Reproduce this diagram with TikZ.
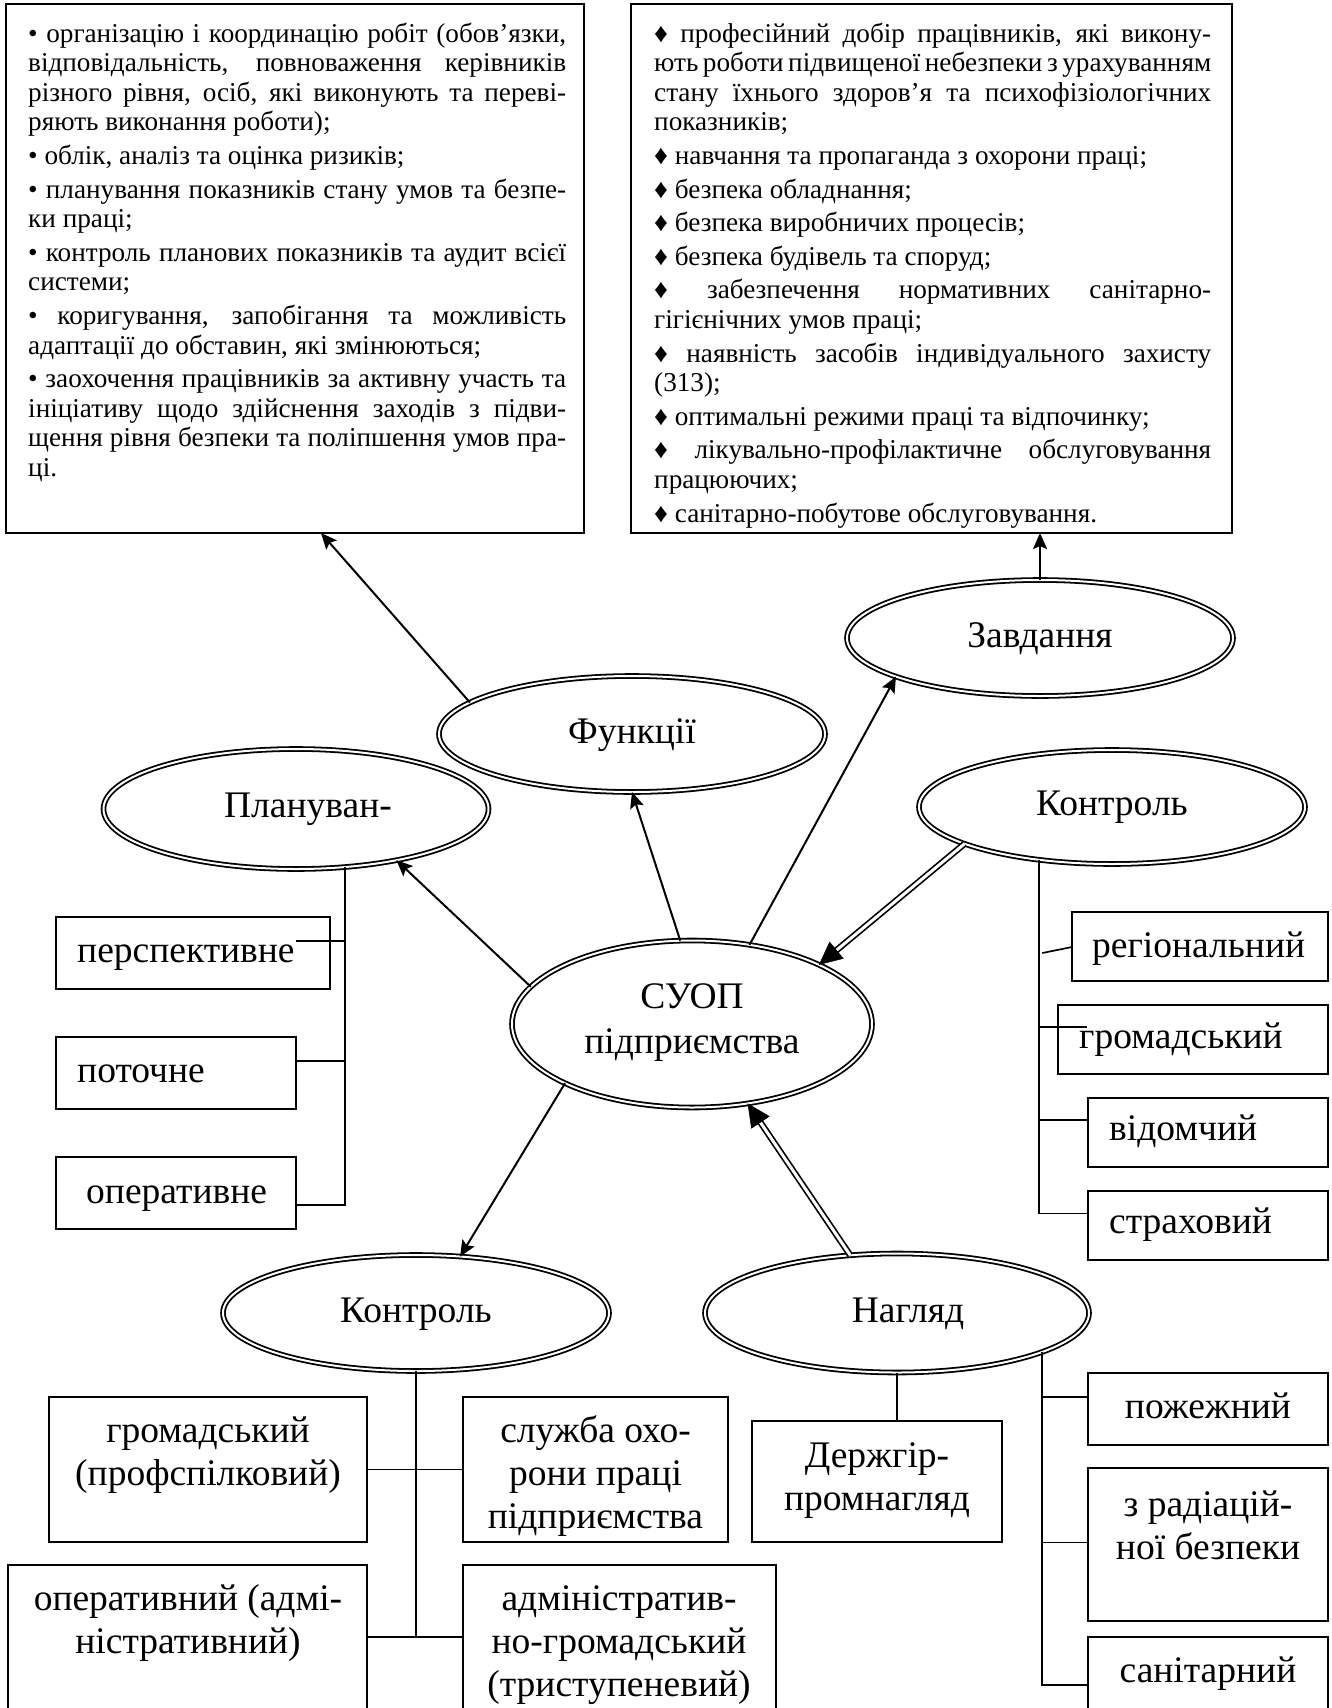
\documentclass[tikz,border=0pt]{standalone}
\usepackage{fontspec}
\setmainfont{Liberation Serif}
\usetikzlibrary{shapes.geometric,arrows.meta,calc}
\newlength\twl \setlength\twl{538pt}
\newlength\twr \setlength\twr{557pt}
\newcommand\jL[1]{\hbox to\twl{#1}}
\newcommand\jR[1]{\hbox to\twr{#1}}
\newcommand\eL[1]{\hbox{#1}}
\newcommand\igap{\vskip4pt}
\newcommand\bigfont{\fontsize{37.5}{43}\selectfont}
\newcommand\smallfont{\fontsize{27.2}{29.6}\selectfont}
\newcommand\ml[1]{\parbox[t]{420pt}{\centering #1}}
\begin{document}
\begin{tikzpicture}[x=1pt,y=-1pt,
  box/.style={draw, line width=1.7pt, rectangle, inner sep=0pt, outer sep=0pt, anchor=north west},
  ell/.style={draw, ellipse, double, double distance=2pt, line width=1.8pt, inner sep=0pt, outer sep=0pt, minimum width=386pt, minimum height=116pt},
  tl/.style={line width=1.7pt},
  arr/.style={line width=2pt, -{Stealth[length=16pt,width=14pt,inset=3pt]}},
  darr/.style={double, line width=1.7pt, double distance=3pt, shorten >=20pt},
  dtip/.style={line width=0.5pt, -{Triangle[length=23pt,width=22pt]}},
  lbl/.style={font=\bigfont, inner sep=0pt, anchor=base},
  lblw/.style={font=\bigfont, inner sep=0pt, anchor=base west},
]
\fill[white] (0,0) rectangle (1332,1708);
\useasboundingbox (0,0) rectangle (1332,1708);

% top boxes
\node[box, minimum width=578pt, minimum height=529pt] (LB) at (6,4) {};
\node[box, minimum width=601pt, minimum height=529pt] (RB) at (631,4) {};
\node[anchor=base west, inner sep=0pt, font=\smallfont] (LT) at (28,42) {\parbox[t]{\twl}{%
\jL{• організацію і координацію робіт (обов’язки,}
\jL{відповідальність, повноваження керівників}
\jL{різного рівня, осіб, які виконують та переві-}
\eL{ряють виконання роботи);}
\igap
\eL{• облік, аналіз та оцінка ризиків;}
\igap
\jL{• планування показників стану умов та безпе-}
\eL{ки праці;}
\igap
\jL{• контроль планових показників та аудит всієї}
\eL{системи;}
\igap
\jL{• коригування, запобігання та можливість}
\eL{адаптації до обставин, які змінюються;}
\igap
\jL{• заохочення працівників за активну участь та}
\jL{ініціативу щодо здійснення заходів з підви-}
\jL{щення рівня безпеки та поліпшення умов пра-}
\eL{ці.}}};
\node[anchor=base west, inner sep=0pt, font=\smallfont] (RT) at (654,42) {\parbox[t]{\twr}{%
\jR{♦ професійний добір працівників, які викону-}
\jR{ють роботи підвищеної небезпеки з урахуванням}
\jR{стану їхнього здоров’я та психофізіологічних}
\eL{показників;}
\igap
\eL{♦ навчання та пропаганда з охорони праці;}
\igap
\eL{♦ безпека обладнання;}
\igap
\eL{♦ безпека виробничих процесів;}
\igap
\eL{♦ безпека будівель та споруд;}
\igap
\jR{♦ забезпечення нормативних санітарно-}
\eL{гігієнічних умов праці;}
\igap
\jR{♦ наявність засобів індивідуального захисту}
\eL{(313);}
\igap
\eL{♦ оптимальні режими праці та відпочинку;}
\igap
\jR{♦ лікувально-профілактичне обслуговування}
\eL{працюючих;}
\igap
\eL{♦ санітарно-побутове обслуговування.}}};

% ellipses
\node[ell] (zav) at (1040,638) {};
\node[ell] (funk) at (632,734) {};
\node[ell, minimum width=385pt, minimum height=120pt] (plan) at (296,809) {};
\node[ell, minimum height=114pt] (kr) at (1112,807) {};
\node[ell, minimum width=360pt, minimum height=167pt] (suop) at (692,1024) {};
\node[ell] (kb) at (416,1313) {};
\node[ell, minimum width=384pt, minimum height=119pt] (ng) at (897,1313) {};

\node[lbl] (tzav) at ($(zav.center)+(0,9)$) {Завдання};
\node[lbl] (tfunk) at ($(funk.center)+(0,9)$) {Функції};
\node[lbl] (tplan) at ($(plan.center)+(12,8)$) {Плануван-};
\node[lbl] (tkr) at ($(kr.center)+(0,8)$) {Контроль};
\node[lbl] (tsuop1) at ($(suop.center)+(0,-16)$) {СУОП};
\node[lbl] (tsuop2) at ($(suop.center)+(0,29)$) {підприємства};
\node[lbl] (tkb) at ($(kb.center)+(0,9)$) {Контроль};
\node[lbl] (tng) at ($(ng.center)+(11,9)$) {Нагляд};

% left boxes
\node[box, minimum width=274pt, minimum height=72pt] (persp) at (56,917) {};
\node[box, minimum width=240pt, minimum height=72pt] (potoch) at (56,1037) {};
\node[box, minimum width=240pt, minimum height=72pt] (operat) at (56,1157) {};
\node[lblw] (tpersp) at (77,962) {перспективне};
\node[lblw] (tpotoch) at (77,1082) {поточне};
\node[lblw] (toperat) at (86,1203) {оперативне};

% right boxes
\node[box, minimum width=256pt, minimum height=69pt] (reg) at (1072,912) {};
\node[box, minimum width=270pt, minimum height=69pt] (grom) at (1058,1005) {};
\node[box, minimum width=240pt, minimum height=69pt] (vid) at (1088,1098) {};
\node[box, minimum width=240pt, minimum height=69pt] (strah) at (1088,1191) {};
\node[lblw] (treg) at (1092,957) {регіональний};
\node[lblw] (tgrom) at (1079,1048) {громадський};
\node[lblw] (tvid) at (1109,1140) {відомчий};
\node[lblw] (tstrah) at (1109,1233) {страховий};

% bottom left boxes
\node[box, minimum width=318pt, minimum height=145pt] (b1) at (49,1397) {};
\node[box, minimum width=265pt, minimum height=145pt] (sluzh) at (463,1397) {};
\node[box, minimum width=359pt, minimum height=170pt] (opk) at (8,1565) {};
\node[box, minimum width=313pt, minimum height=170pt] (adm) at (463,1565) {};
\node[lbl] (tb1) at (208,1442) {\ml{громадський\\(профспілковий)}};
\node[lbl] (tsluzh) at (595.5,1442) {\ml{служба охо-\\рони праці\\підприємства}};
\node[lbl] (topk) at (188,1610) {\ml{оперативний (адмі-\\ністративний)}};
\node[lbl] (tadm) at (619,1610) {\ml{адміністратив-\\но-громадський\\(триступеневий)}};

% bottom right boxes
\node[box, minimum width=250pt, minimum height=121pt] (dz) at (752,1421) {};
\node[box, minimum width=240pt, minimum height=72pt] (pozh) at (1088,1373) {};
\node[box, minimum width=240pt, minimum height=153pt] (rad) at (1088,1468) {};
\node[box, minimum width=240pt, minimum height=100pt] (san) at (1088,1637) {};
\node[lbl] (tdz) at (877,1467) {\ml{Держгір-\\промнагляд}};
\node[lbl] (tpozh) at (1208,1418) {пожежний};
\node[lbl] (trad) at (1208,1516) {\ml{з радіацій-\\ної безпеки}};
\node[lbl] (tsan) at (1208,1682) {санітарний};

% arrows
\coordinate (lbt) at ($(LB.south west)+(315,0)$);
\draw[arr] (funk.169) -- (lbt);
\draw[arr] (zav.north) -- (zav.north |- RB.south);
\draw[arr] (suop.167) -- (plan.-27);
\draw[arr] (suop.98) -- (funk.south);
\draw[arr] (suop.54) -- (zav.195);
\draw[arr] (suop.205) -- (kb.52);
\draw[darr] (kr.194) -- (suop.25);
\draw[dtip] ($(suop.25)!22pt!(kr.194)$) -- (suop.25);
\draw[darr] (ng.129) -- (suop.-55);
\draw[dtip] ($(suop.-55)!22pt!(ng.129)$) -- (suop.-55);

% planning tree
\coordinate (pv) at (plan.-50.9);
\draw[tl] (pv) |- ($(operat.east)+(0,12)$);
\coordinate (pa) at ($(potoch.east)+(0,-12)$);
\draw[tl] (pa) -- (pa -| pv);
\coordinate (pp) at ($(persp.east)+(-34,-12)$);
\draw[tl] (pp) -- (pp -| pv);

% control (right) tree
\coordinate (kv) at (kr.216.8);
\coordinate (ks) at ($(strah.west)+(0,-12)$);
\draw[tl] (kv) |- (ks);
\coordinate (kg) at ($(grom.west)+(29,-12.5)$);
\draw[tl] (kg -| kv) -- (kg);
\coordinate (kd) at ($(vid.west)+(0,-12.5)$);
\draw[tl] (kd -| kv) -- (kd);
\coordinate (kr1) at ($(reg.west)+(0,0.5)$);
\coordinate (kr0) at ($(kr1 -| kv)+(3,6)$);
\draw[tl] (kr0) -- (kr1);

% control (bottom) tree
\coordinate (kbl) at ($(adm.north west)+(0,72)$);
\draw[tl] (kb.south) -- (kb.south |- kbl);
\draw[tl] (kbl -| opk.east) -- (kbl);
\draw[tl] (b1.east) -- (sluzh.west);

% supervision tree
\draw[tl] (ng.south) -- (ng.south |- dz.north);
\coordinate (nv) at (ng.-15.8);
\coordinate (ns) at ($(san.north west)+(0,48)$);
\draw[tl] (nv) |- (ns);
\coordinate (np) at ($(pozh.west)+(0,-12)$);
\draw[tl] (np -| nv) -- (np);
\coordinate (nr) at ($(rad.west)+(0,-2)$);
\draw[tl] (nr -| nv) -- (nr);
\end{tikzpicture}
\end{document}
